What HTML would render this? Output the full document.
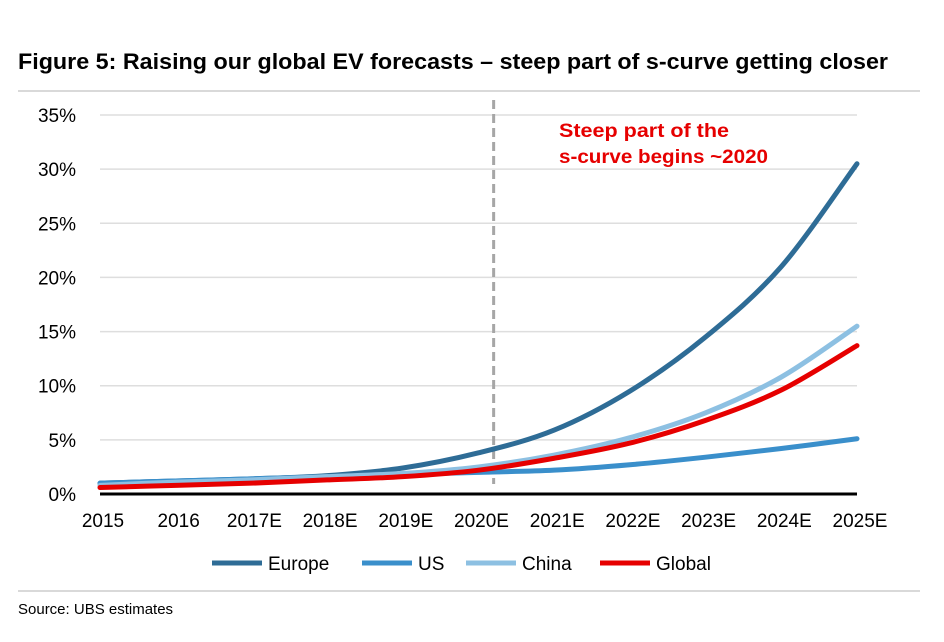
<!DOCTYPE html>
<html><head><meta charset="utf-8"><style>
body{margin:0;background:#fff;font-family:"Liberation Sans",sans-serif;}
</style></head><body>
<svg width="944" height="637" xmlns="http://www.w3.org/2000/svg">
<text x="18" y="69" font-size="22" font-weight="bold" fill="#000" textLength="870" lengthAdjust="spacingAndGlyphs">Figure 5: Raising our global EV forecasts – steep part of s-curve getting closer</text>
<rect x="18" y="90" width="902" height="2" fill="#d9d9d9"/>
<rect x="18" y="590" width="902" height="2" fill="#d9d9d9"/>
<text x="18" y="614" font-size="15" fill="#000">Source: UBS estimates</text>
<g id="grid"></g><g id="series"></g><g id="legend"></g>
<text x="559" y="137" font-size="19" font-weight="bold" fill="#e60000" textLength="170" lengthAdjust="spacingAndGlyphs">Steep part of the</text>
<text x="559" y="163" font-size="19" font-weight="bold" fill="#e60000" textLength="209" lengthAdjust="spacingAndGlyphs">s-curve begins ~2020</text>
</svg>
<script>
const categories=["2015","2016","2017E","2018E","2019E","2020E","2021E","2022E","2023E","2024E","2025E"];
const yTicks=[0,5,10,15,20,25,30,35];
const europe=[1.0,1.2,1.4,1.7,2.4,3.8,5.9,9.5,14.5,21,30.5];
const us=[1.0,1.2,1.4,1.6,1.8,2.0,2.2,2.7,3.4,4.2,5.1];
const china=[0.8,1.1,1.3,1.6,1.9,2.5,3.6,5.2,7.5,10.8,15.5];
const global=[0.6,0.8,1.0,1.3,1.6,2.2,3.3,4.7,6.8,9.6,13.7];
const markerPos=5.2;
const NS="http://www.w3.org/2000/svg";
const X0=100,X1=857,Y0=494,Y1=115;
const xs=i=>X0+(X1-X0)*i/(categories.length-1);
const ys=v=>Y0-(Y0-Y1)*v/35;
function mk(t,a,p){const e=document.createElementNS(NS,t);for(const k in a)e.setAttribute(k,a[k]);p.appendChild(e);return e;}
const grid=document.getElementById('grid');
yTicks.forEach(v=>{
 if(v>0){const l=mk('line',{x1:X0,x2:X1,y1:ys(v),y2:ys(v),stroke:'#dedede','stroke-width':1.5},grid);
 
 }
 const t=mk('text',{x:76,y:ys(v)+7,'font-size':19,'text-anchor':'end',fill:'#000'},grid);t.textContent=v+'%';
 
 
});
categories.forEach((c,i)=>{const t=mk('text',{x:xs(i)+3,y:527,'font-size':19,'text-anchor':'middle',fill:'#000'},grid);t.textContent=c;
 
 });
const dl=mk('line',{x1:xs(markerPos),x2:xs(markerPos),y1:100,y2:484,stroke:'#a6a6a6','stroke-width':3,'stroke-dasharray':'9,5'},grid);


function path(vals){const p=vals.map((v,i)=>[xs(i),ys(v)]);let d='M'+p[0][0]+','+p[0][1];
 for(let i=0;i<p.length-1;i++){const a=p[i-1]||p[i],b=p[i],c=p[i+1],e=p[i+2]||c;
 d+=` C${b[0]+(c[0]-a[0])/6},${b[1]+(c[1]-a[1])/6} ${c[0]-(e[0]-b[0])/6},${c[1]-(e[1]-b[1])/6} ${c[0]},${c[1]}`;}return d;}
const ser=[["Europe",europe,'#2e6c96'],["US",us,'#3a8fcb'],["China",china,'#8dc0e2'],["Global",global,'#e60000']];
const sg=document.getElementById('series');
ser.forEach(([n,v,c])=>{const p=mk('path',{d:path(v),fill:'none',stroke:c,'stroke-width':5,'stroke-linecap':'round'},sg);
 
 });
const ax=mk('line',{x1:X0,x2:X1,y1:Y0,y2:Y0,stroke:'#000','stroke-width':3},sg);


const lg=document.getElementById('legend');const lx=[212,362,466,600];
ser.forEach(([n,v,c],i)=>{const g=mk('g',{},lg);
 
 
 mk('line',{x1:lx[i],x2:lx[i]+50,y1:563,y2:563,stroke:c,'stroke-width':5},g);
 const t=mk('text',{x:lx[i]+56,y:570,'font-size':19,fill:'#000'},g);t.textContent=n;});
</script>
</body></html>
